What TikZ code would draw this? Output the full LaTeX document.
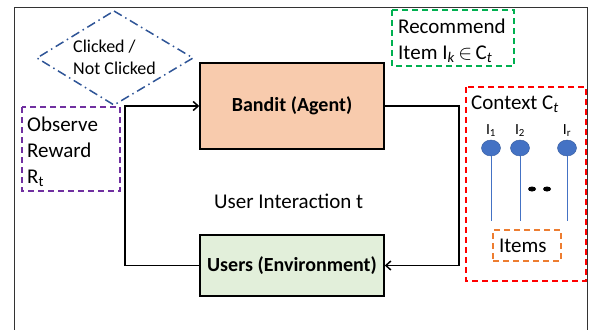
\documentclass[tikz,border=0pt]{standalone}
\usepackage{fontspec}
\setmainfont{Carlito}
\usetikzlibrary{arrows.meta,shapes.geometric}
\definecolor{dblue}{HTML}{2F5597}
\definecolor{mblue}{HTML}{4472C4}
\definecolor{purp}{HTML}{7030A0}
\definecolor{grn}{HTML}{00B050}
\definecolor{rd}{HTML}{FF0000}
\definecolor{orng}{HTML}{ED7D31}
\definecolor{peach}{HTML}{F8CBAD}
\definecolor{lgreen}{HTML}{E2EFDA}
\begin{document}
\begin{tikzpicture}[x=1pt,y=-1pt,
  frame/.style={draw=black!80,line width=0.8pt},
  mainbox/.style={draw=black,line width=1.5pt,minimum width=184pt,inner sep=0pt,font=\fontsize{20}{24}\selectfont\bfseries},
  dbox/.style={dashed,dash pattern=on 6pt off 4pt,line width=1.5pt},
  big/.style={font=\fontsize{21}{26}\selectfont,inner sep=0pt},
  flow/.style={draw=black,line width=1.5pt,-{Straight Barb[length=5pt,width=9pt]}},
  itemdot/.style={ellipse,fill=mblue,draw=mblue!80!black,line width=0.4pt,minimum width=19pt,minimum height=16pt,inner sep=0pt},
  stem/.style={draw=mblue,line width=1pt},
  blackdot/.style={ellipse,fill=black,minimum width=8pt,minimum height=5pt,inner sep=0pt},
  small/.style={font=\fontsize{15.5}{17}\selectfont,inner sep=0pt}]
\useasboundingbox (0,0) rectangle (593,329);
% outer frame
\draw[frame] (14,330) -- (14,7) -- (587,7) -- (587,330);
% diamond
\draw[dblue,line width=1.5pt,dash pattern=on 9pt off 4pt on 1.5pt off 4pt]
  (114,11) -- (193,58) -- (114,105) -- (37,58) -- cycle;
\node[font=\fontsize{18}{22}\selectfont,inner sep=0pt,anchor=north west,align=left] (click) at (73,39.5) {Clicked /\\Not Clicked};
% main boxes
\node[mainbox,fill=peach,minimum height=86pt] (bandit) at (292,106) {Bandit (Agent)};
\node[mainbox,fill=lgreen,minimum height=61pt] (users) at (292,265.5) {Users (Environment)};
\coordinate (lc) at (125,0);
\coordinate (rc) at (459,0);
\draw[flow] (users.west) -- (users.west -| lc) |- (bandit.west);
\draw[flow] (bandit.east) -- (bandit.east -| rc) |- (users.east);
\node[big,anchor=base west] (ui) at (214,208) {User Interaction t};
% observe reward
\draw[purp,dbox] (22,107) rectangle (120,191);
\node[big,anchor=north west,align=left] (obs) at (27,116.5) {Observe\\Reward\\R\textsubscript{t}};
% recommend
\draw[grn,dbox] (392,10) rectangle (514,66);
\node[big,anchor=north west,align=left] (rec) at (398,18.5) {Recommend\\Item I\textsubscript{\textit{k}}\,$\in$\,C\textsubscript{\textit{t}}};
% context
\draw[rd,dbox] (466,87) rectangle (586,281);
\node[big,anchor=base west] (ctx) at (471,109) {Context C\textsubscript{\textit{t}}};
\node[itemdot] (i1) at (491,148) {};
\node[itemdot] (i2) at (520,148) {};
\node[itemdot] (ir) at (567,148) {};
\draw[stem] (i1.south) -- ++(0,65);
\draw[stem] (i2.south) -- ++(0,65);
\draw[stem] (ir.south) -- ++(0,65);
\node[small,anchor=base] (l1) at (491,134) {I\textsubscript{1}};
\node[small,anchor=base] (l2) at (520,134) {I\textsubscript{2}};
\node[small,anchor=base] (lr) at (567,134) {I\textsubscript{r}};
\node[blackdot] (d1) at (532,189) {};
\node[blackdot] (d2) at (547,189) {};
\node[big,draw=orng,dbox,minimum width=68pt,minimum height=31pt,text width=56pt,align=left,inner xsep=6pt] (items) at (527,245.5) {Items};
\end{tikzpicture}
\end{document}
